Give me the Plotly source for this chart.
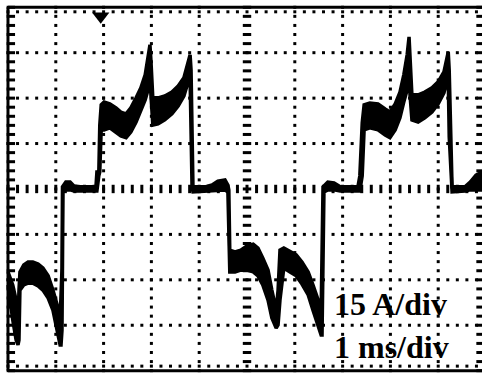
import numpy as np
import plotly.graph_objects as go

# Oscilloscope reading: 1 ms/div, 15 A/div
time_ms = [0.00, 0.04, 0.10, 0.17, 0.21, 0.23, 0.25, 0.33, 0.42, 0.52, 0.63, 0.73, 0.84, 0.94, 1.03, 1.09, 1.11, 1.13, 1.14,
           1.15, 1.21, 1.30, 1.38, 1.51, 1.84, 1.86, 1.90, 1.92, 1.95, 2.01, 2.13, 2.26, 2.36, 2.47, 2.57, 2.68, 2.78, 2.87,
           2.93, 2.97, 2.99, 3.03, 3.14, 3.28, 3.43, 3.56, 3.68, 3.77, 3.81, 3.83, 3.85, 3.87, 4.12, 4.27, 4.39, 4.54, 4.60,
           4.62, 4.64, 4.75, 4.87, 5.00, 5.13, 5.23, 5.33, 5.44, 5.52, 5.61, 5.65, 5.69, 5.77, 5.90, 6.03, 6.15, 6.28, 6.38,
           6.49, 6.55, 6.57, 6.59, 6.61, 6.69, 6.82, 6.95, 7.32, 7.36, 7.41, 7.45, 7.57, 7.74, 7.89, 7.99, 8.10, 8.20, 8.28,
           8.35, 8.39, 8.41, 8.45, 8.58, 8.72, 8.87, 9.00, 9.12, 9.18, 9.21, 9.23, 9.27, 9.29, 9.56, 9.67, 9.79, 9.92]
current_upper = [-27.4, -29.4, -31.7, -36.7, -43.3, -33.4, -27.4, -25.1, -24.1, -24.1, -24.8, -26.1, -28.7, -33.4, -38.3, -43.3, -36.7, -26.1, 0.7,
                 1.0, 2.3, 2.3, 1.0, 0.7, 0.7, 5.6, 5.6, 21.1, 27.8, 28.7, 28.1, 26.8, 25.4, 24.8, 26.8, 30.1, 33.4, 37.7,
                 43.3, 47.6, 42.6, 30.1, 30.1, 30.7, 32.0, 34.0, 36.7, 42.0, 44.3, 39.3, 16.2, 0.7, 0.7, 1.3, 2.6, 3.0, 1.3,
                 -0.3, -20.2, -20.8, -20.2, -18.8, -18.2, -19.5, -22.8, -26.8, -33.4, -40.0, -33.4, -20.2, -19.5, -20.8, -21.8, -24.1, -27.4, -31.7,
                 -36.7, -41.6, -26.8, 0.7, 1.0, 2.3, 2.0, 0.7, 0.7, 4.3, 21.8, 27.8, 28.4, 28.1, 26.4, 25.4, 28.1, 32.0, 37.7,
                 44.3, 50.2, 44.3, 31.1, 31.1, 32.0, 33.4, 35.4, 38.7, 43.3, 45.3, 39.3, 17.2, 0.7, 0.7, 2.3, 4.6, 5.6]
current_lower = [-31.7, -36.7, -43.3, -49.9, -51.5, -49.9, -33.4, -31.7, -31.1, -31.1, -32.0, -33.4, -36.0, -40.0, -46.6, -51.5, -51.5, -46.6, -25.8,
                 -1.0, -0.3, -0.3, -0.7, -0.7, -0.7, -0.7, 4.3, 5.6, 19.5, 19.5, 20.2, 18.8, 17.5, 16.9, 18.8, 22.1, 26.1, 29.4,
                 32.7, 37.7, 31.1, 21.1, 21.5, 22.8, 24.8, 27.4, 30.7, 35.4, 36.0, 16.2, 0.7, -1.0, -0.7, -0.7, -0.3, -0.3, -1.0,
                 -20.2, -27.4, -27.4, -26.8, -26.8, -27.4, -28.7, -31.7, -36.7, -42.6, -45.9, -44.9, -36.7, -26.1, -27.4, -28.7, -31.4, -35.0, -40.0,
                 -44.9, -48.2, -48.2, -26.8, -1.0, -0.3, -0.3, -0.7, -0.7, -0.7, 4.3, 19.5, 20.2, 19.5, 17.8, 16.9, 19.5, 23.5, 28.7,
                 32.7, 39.3, 31.1, 22.8, 22.1, 23.5, 25.4, 28.1, 31.7, 35.4, 36.0, 17.2, 0.7, -1.0, -0.7, -0.3, -0.3, -0.3]

labels = ["15 A/div", "1 ms/div"]
MS_PER_DIV = 1.0
A_PER_DIV = 15.0
N_XDIV, N_YDIV = 10, 8
trigger_ms = 1.94

fig = go.Figure()

# ---- graticule ----
xs_fine = np.arange(0, N_XDIV + 1e-9, 0.2) * MS_PER_DIV
ys_fine = np.arange(-N_YDIV / 2, N_YDIV / 2 + 1e-9, 0.2) * A_PER_DIV
gx, gy = [], []
for k in range(1, N_XDIV):
    if k == 5:
        continue
    gx += [k * MS_PER_DIV] * len(ys_fine)
    gy += list(ys_fine)
for k in range(-3, 4):
    if k == 0:
        continue
    gx += list(xs_fine)
    gy += [k * A_PER_DIV] * len(xs_fine)
fig.add_trace(go.Scatter(x=gx, y=gy, mode="markers", hoverinfo="skip",
                         marker=dict(symbol="square", size=3, color="black")))
# center axes with tick dashes
fig.add_trace(go.Scatter(x=list(xs_fine), y=[0] * len(xs_fine), mode="markers", hoverinfo="skip",
                         marker=dict(symbol="line-ns", size=6, line=dict(width=3, color="black"))))
fig.add_trace(go.Scatter(x=[5 * MS_PER_DIV] * len(ys_fine), y=list(ys_fine), mode="markers", hoverinfo="skip",
                         marker=dict(symbol="line-ew", size=6, line=dict(width=3, color="black"))))
# border ticks
top = N_YDIV / 2 * A_PER_DIV
fig.add_trace(go.Scatter(x=list(xs_fine), y=[top - 0.1 * A_PER_DIV] * len(xs_fine), mode="markers", hoverinfo="skip",
                         marker=dict(symbol="square", size=3, color="black")))
fig.add_trace(go.Scatter(x=list(xs_fine), y=[-top + 0.1 * A_PER_DIV] * len(xs_fine), mode="markers", hoverinfo="skip",
                         marker=dict(symbol="square", size=3, color="black")))
fig.add_trace(go.Scatter(x=[0.06] * len(ys_fine), y=list(ys_fine), mode="markers", hoverinfo="skip",
                         marker=dict(symbol="line-ew", size=6, line=dict(width=3, color="black"))))
fig.add_trace(go.Scatter(x=[9.9] * len(ys_fine), y=list(ys_fine), mode="markers", hoverinfo="skip",
                         marker=dict(symbol="line-ew", size=7, line=dict(width=3, color="black"))))

# ---- waveform (noisy band) ----
fig.add_trace(go.Scatter(x=time_ms, y=current_lower, mode="lines", hoverinfo="skip",
                         line=dict(color="black", width=3.5)))
fig.add_trace(go.Scatter(x=time_ms, y=current_upper, mode="lines", hoverinfo="skip",
                         line=dict(color="black", width=3.5), fill="tonexty", fillcolor="black"))

# trigger marker
fig.add_trace(go.Scatter(x=[trigger_ms], y=[57.0], mode="markers", hoverinfo="skip", cliponaxis=False,
                         marker=dict(symbol="triangle-down", size=15, color="black")))

# frame
for x0, y0, x1, y1 in [(0, -top, 0, top), (0, top, N_XDIV, top), (0, -top, N_XDIV, -top), (N_XDIV, -top, N_XDIV, top)]:
    fig.add_shape(type="line", x0=x0, y0=y0, x1=x1, y1=y1, xref="x", yref="y",
                  line=dict(color="black", width=3))

for txt, yv in zip(labels, [-38.0, -52.2]):
    fig.add_annotation(x=6.78, y=yv, text=txt, showarrow=False, xanchor="left", yanchor="middle",
                       font=dict(family="Liberation Serif", size=32, color="black", weight="bold"))

fig.update_layout(width=482, height=374, margin=dict(l=0, r=0, t=0, b=0),
                  paper_bgcolor="white", plot_bgcolor="white", showlegend=False)
fig.update_xaxes(range=[-0.167, 9.916], visible=False)
fig.update_yaxes(range=[-61.1, 62.4], visible=False)
fig.write_html("out.html")
